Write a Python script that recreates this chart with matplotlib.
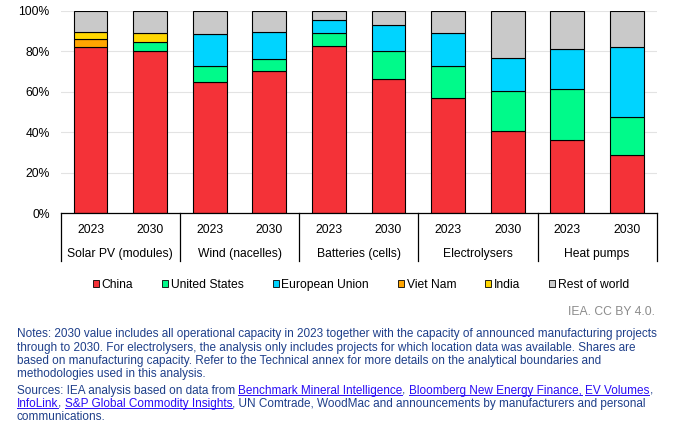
import matplotlib
matplotlib.use('Agg')
import matplotlib.pyplot as plt
from matplotlib.patches import Patch
from matplotlib.font_manager import FontProperties
import matplotlib.transforms as mtransforms

plt.rcParams['font.family'] = ['Liberation Sans', 'DejaVu Sans']

# ---------------- data ----------------
technologies = ['Solar PV (modules)', 'Wind (nacelles)', 'Batteries (cells)',
                'Electrolysers', 'Heat pumps']
years = ['2023', '2030']
series_names = ['China', 'United States', 'European Union', 'Viet Nam',
                'India', 'Rest of world']

china = [82.0, 80.0, 65.0, 70.0, 82.5, 66.5, 57.0, 40.5, 36.0, 28.8]
united_states = [0.0, 4.5, 7.5, 6.0, 6.3, 13.8, 15.5, 20.0, 25.2, 18.9]
european_union = [0.0, 0.0, 16.0, 13.3, 6.5, 12.6, 16.6, 16.3, 19.7, 34.4]
viet_nam = [4.0, 0.0, 0.0, 0.0, 0.0, 0.0, 0.0, 0.0, 0.0, 0.0]
india = [3.5, 4.3, 0.0, 0.0, 0.0, 0.0, 0.0, 0.0, 0.0, 0.0]
rest_of_world = [10.5, 11.2, 11.5, 10.7, 4.7, 7.1, 10.9, 23.2, 19.1, 17.9]

y_ticks = [0, 20, 40, 60, 80, 100]
y_tick_labels = ['0%', '20%', '40%', '60%', '80%', '100%']

credit = 'IEA. CC BY 4.0.'
notes_lines = [
    'Notes: 2030 value includes all operational capacity in 2023 together with the capacity of announced manufacturing projects',
    'through to 2030. For electrolysers, the analysis only includes projects for which location data was available. Shares are',
    'based on manufacturing capacity. Refer to the Technical annex for more details on the analytical boundaries and',
    'methodologies used in this analysis.',
]
# (text, is_link)
sources_lines = [
    [('Sources: IEA analysis based on data from ', False),
     ('Benchmark Mineral Intelligence', True), (', ', False),
     ('Bloomberg New Energy Finance,', True), (' ', False),
     ('EV Volumes', True), (',', False)],
    [('InfoLink', True), (', ', False), ('S&P Global Commodity Insights', True),
     (', UN Comtrade, WoodMac and announcements by manufacturers and personal', False)],
    [('communications.', False)],
]

# ---------------- style ----------------
colors = ['#F43238', '#00FA8A', '#00D4FF', '#FFA500', '#FFD700', '#C9C9C9']
FS = 8.75
NFS = 8.45
NAVY = '#1E3F8A'
LINK = '#2A0DF5'
W, H = 681, 429

fig = plt.figure(figsize=(W / 100, H / 100), dpi=100)
ax_left, ax_right = 60.7, 656.7
ax_top, ax_bot = 10.7, 213.3
ax = fig.add_axes([ax_left / W, 1 - ax_bot / H, (ax_right - ax_left) / W,
                   (ax_bot - ax_top) / H])

series = [china, united_states, european_union, viet_nam, india, rest_of_world]
n_bars = len(technologies) * len(years)
xpos = list(range(n_bars))
bottoms = [0.0] * n_bars
for vals, col in zip(series, colors):
    xs = [x for x, v in zip(xpos, vals) if v > 0]
    hs = [v for v in vals if v > 0]
    bs = [b for b, v in zip(bottoms, vals) if v > 0]
    ax.bar(xs, hs, bottom=bs, width=0.57, color=col, edgecolor='black',
           linewidth=0.8, zorder=3)
    bottoms = [b + v for b, v in zip(bottoms, vals)]

ax.set_xlim(-0.5, n_bars - 0.5)
ax.set_ylim(0, 100)
ax.set_yticks(y_ticks)
ax.set_yticklabels(y_tick_labels, fontsize=FS)
ax.tick_params(axis='y', length=0, pad=8)
ax.set_xticks([])
ax.grid(axis='y', color='#E3E3E3', linewidth=0.8, zorder=0)
for s in ['left', 'right', 'top']:
    ax.spines[s].set_visible(False)
ax.spines['bottom'].set_linewidth(0.9)
ax.spines['bottom'].set_zorder(4)

axh = ax_bot - ax_top
trans = mtransforms.blended_transform_factory(ax.transData, ax.transAxes)
year_y = (ax_bot - 230.0) / axh
cat_y = (ax_bot - 253.7) / axh
sep_y = (ax_bot - 261.0) / axh
for g, tech in enumerate(technologies):
    for j, yr in enumerate(years):
        ax.text(g * 2 + j, year_y, yr, transform=trans, ha='center',
                va='center', fontsize=FS)
    ax.text(g * 2 + 0.5, cat_y, tech, transform=trans, ha='center',
            va='center', fontsize=FS)
for k in range(len(technologies) + 1):
    xk = k * 2 - 0.5
    ax.plot([xk, xk], [0, sep_y], transform=trans, color='black',
            linewidth=0.9, clip_on=False, zorder=4)

handles = [Patch(facecolor=c, edgecolor='black', linewidth=0.6) for c in colors]
fig.legend(handles, series_names, loc='center', ncol=6, frameon=False,
           bbox_to_anchor=(361 / W, 1 - 285 / H), fontsize=FS,
           handlelength=0.5, handleheight=0.5, handletextpad=0.2,
           columnspacing=2.4, borderpad=0)

fig.text(655 / W, 1 - 311.7 / H, credit, ha='right', va='center',
         fontsize=FS, color='#8C8C8C')

renderer = fig.canvas.get_renderer()
fp = FontProperties(family=['Liberation Sans'], size=NFS)


def ink_width(s):
    w, h, d = renderer.get_text_width_height_descent(s, fp, ismath=False)
    return w


x0 = 16.7
notes_base = [337.5, 350.8, 364.1, 377.4]
for line, yb in zip(notes_lines, notes_base):
    fig.text(x0 / W, 1 - yb / H, line, ha='left', va='baseline',
             fontsize=NFS, color=NAVY)

sources_base = [393.6, 406.6, 419.6]
for pieces, yb in zip(sources_lines, sources_base):
    prefix = ''
    for txt, is_link in pieces:
        off = ink_width(prefix + txt) - ink_width(txt)
        xs = x0 + off
        col = LINK if is_link else NAVY
        fig.text(xs / W, 1 - yb / H, txt, ha='left', va='baseline',
                 fontsize=NFS, color=col)
        if is_link:
            wpx = ink_width(txt)
            fig.add_artist(plt.Line2D([xs / W, (xs + wpx) / W],
                                      [1 - (yb + 1.6) / H, 1 - (yb + 1.6) / H],
                                      color=col, linewidth=0.7))
        prefix += txt

fig.savefig('out.png', dpi=100)
